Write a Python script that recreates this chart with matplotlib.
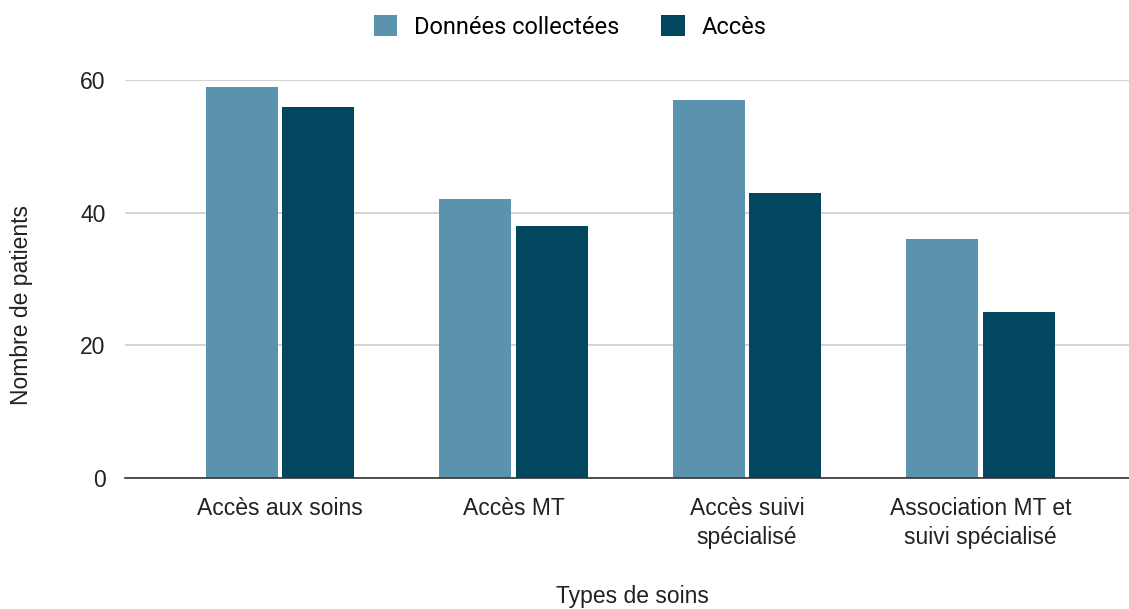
import matplotlib.pyplot as plt
import numpy as np
from matplotlib.patches import Patch

categories = ["Accès aux soins", "Accès MT", "Accès suivi\nspécialisé",
              "Association MT et\nsuivi spécialisé"]
collected = [59, 42, 57, 36]
access = [56, 38, 43, 25]
series_names = ["Données collectées", "Accès"]
yticks = [0, 20, 40, 60]

light = "#5b93ae"
dark = "#02465f"
tick_font = {"family": "Liberation Sans", "size": 16.5, "color": "#222222"}

fig = plt.figure(figsize=(11.29, 6.09), dpi=100)
ax = fig.add_axes([125 / 1129, 1 - 478 / 609, 1005 / 1129, 398 / 609])

x = np.arange(len(categories))
w = 0.308
off = 0.164
ax.bar(x - off, collected, width=w, color=light, zorder=3)
ax.bar(x + off, access, width=w, color=dark, zorder=3)

ax.set_xlim(-0.663, 3.64)
ax.set_ylim(0, 60)
ax.set_yticks(yticks)
ax.set_yticklabels([str(v) for v in yticks], **tick_font)
ax.set_xticks(x)
ax.set_xticklabels(categories, **tick_font, linespacing=1.3)
ax.tick_params(axis="both", length=0)
ax.tick_params(axis="y", pad=14)
ax.tick_params(axis="x", pad=14)

# horizontal grid only, darker baseline at zero
ax.grid(True, axis="y", color="#cccccc", lw=1.2, zorder=0)
for side in ["top", "right", "left"]:
    ax.spines[side].set_visible(False)
ax.spines["bottom"].set_color("#333333")
ax.spines["bottom"].set_linewidth(1.2)
ax.spines["bottom"].set_zorder(4)

fig.text(22 / 1129, 1 - 305 / 609, "Nombre de patients", rotation=90,
         ha="center", va="center", **tick_font)
fig.text(632 / 1129, 1 - 597 / 609, "Types de soins",
         ha="center", va="center", **tick_font)

handles = [Patch(facecolor=light, edgecolor="none"),
           Patch(facecolor=dark, edgecolor="none")]
fig.legend(handles, series_names, loc="center", bbox_to_anchor=(570 / 1129, 1 - 27 / 609),
           ncol=2, frameon=False, prop={"family": "Roboto", "size": 17},
           handlelength=1.0, handleheight=1.0, handletextpad=0.7, columnspacing=1.8)

fig.savefig("out.png", dpi=100, facecolor="white")
